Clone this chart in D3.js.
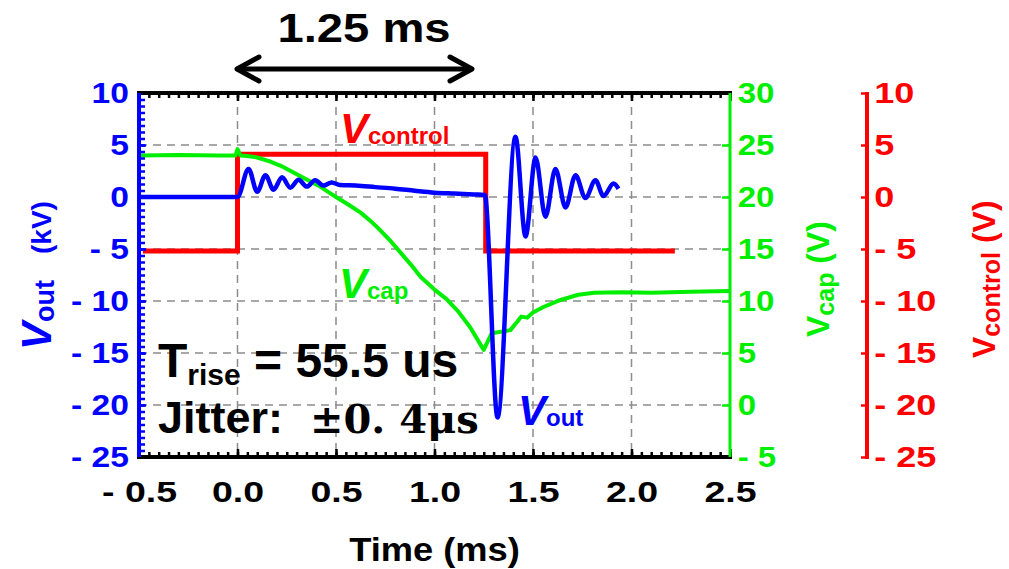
<!DOCTYPE html>
<html>
<head>
<meta charset="utf-8">
<script src="https://cdn.jsdelivr.net/npm/d3@7"></script>
<style>
  html, body { margin: 0; padding: 0; background: #fff; }
  svg { display: block; }
  text { font-family: "Liberation Sans", Arial, sans-serif; font-weight: bold; }
</style>
</head>
<body>
<div id="chart"></div>
<script>
// tick values
const timeTicks = [-0.5, 0, 0.5, 1, 1.5, 2, 2.5];
const voutTicks = [10, 5, 0, -5, -10, -15, -20, -25];
const vcapTicks = [30, 25, 20, 15, 10, 5, 0, -5];
const vctlTicks = [10, 5, 0, -5, -10, -15, -20, -25];

// V_control (V), step signal
const ctlTime  = [-0.48, 0.0, 0.0, 1.26, 1.26, 2.22];
const ctlValue = [-5.2, -5.2, 4.1, 4.1, -5.2, -5.2];

// V_cap (V)
const capTime  = [-0.5, -0.3, -0.1, -0.01, 0.0, 0.015, 0.05, 0.1, 0.16, 0.22, 0.27, 0.32, 0.37, 0.42, 0.46, 0.5, 0.56,
                  0.625, 0.675, 0.725, 0.78, 0.83, 0.88, 0.93, 1.0, 1.06, 1.12, 1.18, 1.25,
                  1.29, 1.385, 1.42, 1.44, 1.47, 1.5, 1.55, 1.64, 1.73, 1.81, 1.95, 2.1, 2.3, 2.5];
const capValue = [24.0, 24.05, 24.0, 24.0, 24.6, 24.0, 23.95, 23.8, 23.45, 23.0, 22.5, 22.0, 21.5, 21.0, 20.5, 20.0, 19.3,
                  18.5, 17.7, 16.8, 15.7, 14.6, 13.5, 12.3, 11.1, 10.2, 9.0, 7.5, 5.3,
                  6.9, 7.2, 8.0, 8.5, 8.4, 8.9, 9.4, 10.1, 10.6, 10.8, 10.85, 10.8, 10.9, 10.95];

// V_out (kV)
const outTime  = [-0.5, 0.0, 0.056, 0.1, 0.142, 0.183, 0.226, 0.268, 0.31, 0.352, 0.394, 0.436, 0.478, 0.52, 0.6, 0.7, 0.8, 0.9,
                  1.0, 1.1, 1.2, 1.255, 1.32, 1.411, 1.462, 1.513, 1.563, 1.614, 1.665, 1.716, 1.766, 1.817, 1.858, 1.909, 1.934];
const outValue = [0, 0, 2.7, 0.5, 2.1, 0.7, 1.9, 0.9, 1.65, 1.0, 1.6, 1.1, 1.4, 1.15, 1.1, 0.95, 0.8, 0.6,
                  0.42, 0.33, 0.25, 0.2, -21.2, 5.8, -3.8, 3.8, -1.9, 2.7, -1.0, 2.1, -0.1, 1.6, 0.1, 1.3, 0.8];

const W = 1009, H = 569;
const X0 = 139, X1 = 730, Y0 = 93, Y1 = 457;
const BLUE = '#0000ff', GREEN = '#00ee00', RED = '#ff0000';

const svg = d3.select('#chart').append('svg')
    .attr('width', W)
    .attr('height', H);

const x = d3.scaleLinear().domain([-0.5, 2.5]).range([X0, X1]);
const yOut = d3.scaleLinear().domain([-25, 10]).range([Y1, Y0]);
const yCap = d3.scaleLinear().domain([-5, 30]).range([Y1, Y0]);
const yCtl = d3.scaleLinear().domain([-25, 10]).range([Y1, Y0]);

const negFmt = v => v < 0 ? '- ' + Math.abs(v) : String(v);
const timeFmt = v => v < 0 ? '- ' + d3.format('.1f')(-v) : d3.format('.1f')(v);

// grid
const grid = svg.append('g')
    .attr('stroke', '#8c8c8c')
    .attr('stroke-width', 1.5)
    .attr('stroke-dasharray', '8,6');

grid.selectAll('.vg')
    .data(timeTicks.filter(t => t > -0.5 && t < 2.5))
    .join('line')
    .attr('x1', d => x(d)).attr('x2', d => x(d))
    .attr('y1', Y0).attr('y2', Y1);

grid.selectAll('.hg')
    .data(voutTicks.filter(v => v < 10 && v > -25))
    .join('line')
    .attr('x1', X0).attr('x2', X1)
    .attr('y1', d => yOut(d)).attr('y2', d => yOut(d));

// traces
const ctlData = ctlTime.map((t, i) => [t, ctlValue[i]]);
const capData = capTime.map((t, i) => [t, capValue[i]]);
const outData = outTime.map((t, i) => [t, outValue[i]]);

svg.append('path')
    .datum(ctlData)
    .attr('fill', 'none')
    .attr('stroke', RED)
    .attr('stroke-width', 5)
    .attr('d', d3.line().x(d => x(d[0])).y(d => yCtl(d[1])));

svg.append('path')
    .datum(capData)
    .attr('fill', 'none')
    .attr('stroke', GREEN)
    .attr('stroke-width', 4)
    .attr('stroke-linejoin', 'round')
    .attr('d', d3.line().x(d => x(d[0])).y(d => yCap(d[1])));

svg.append('path')
    .datum(outData)
    .attr('fill', 'none')
    .attr('stroke', BLUE)
    .attr('stroke-width', 4.5)
    .attr('stroke-linejoin', 'round')
    .attr('d', d3.line().curve(d3.curveMonotoneX).x(d => x(d[0])).y(d => yOut(d[1])));

// axes
function styleAxis(g, color, size, sx) {
    g.select('.domain').remove();
    g.selectAll('line').attr('stroke', color).attr('stroke-width', 2.5);
    g.selectAll('text')
        .attr('fill', color)
        .attr('transform', `scale(${sx || 1},1)`)
        .style('font-size', size + 'px')
        .style('font-family', '"Liberation Sans", Arial, sans-serif')
        .style('font-weight', 'bold');
}

const minorTime = d3.range(0, 61).map(i => -0.5 + i * 0.05);
const minorOut = d3.range(0, 57).map(i => -25 + i * 0.625);

svg.append('g')
    .attr('transform', `translate(0,${Y1})`)
    .call(d3.axisBottom(x).tickValues(minorTime).tickSize(-5).tickFormat(''))
    .call(g => styleAxis(g, '#000', 30));

svg.append('g')
    .attr('transform', `translate(0,${Y1})`)
    .call(d3.axisBottom(x).tickValues(timeTicks).tickSize(-8).tickPadding(24).tickFormat(timeFmt))
    .call(g => styleAxis(g, '#000', 30, 1.25));

svg.append('g')
    .attr('transform', `translate(0,${Y0})`)
    .call(d3.axisTop(x).tickValues(minorTime).tickSize(-5).tickFormat(''))
    .call(g => styleAxis(g, '#000', 30));

svg.append('g')
    .attr('transform', `translate(0,${Y0})`)
    .call(d3.axisTop(x).tickValues(timeTicks).tickSize(-8).tickFormat(''))
    .call(g => styleAxis(g, '#000', 30));

svg.append('g')
    .attr('transform', `translate(${X0},0)`)
    .call(d3.axisLeft(yOut).tickValues(minorOut).tickSize(-6).tickFormat(''))
    .call(g => styleAxis(g, BLUE, 30));

svg.append('g')
    .attr('transform', `translate(${X0},0)`)
    .call(d3.axisLeft(yOut).tickValues(voutTicks).tickSize(-7).tickPadding(9).tickFormat(negFmt))
    .call(g => styleAxis(g, BLUE, 30, 1.12));

svg.append('g')
    .attr('transform', `translate(${X1},0)`)
    .call(d3.axisRight(yCap).tickValues(vcapTicks).tickSize(-8).tickPadding(7).tickFormat(negFmt))
    .call(g => styleAxis(g, GREEN, 30, 1.1));

const ctlX = 867;
svg.append('g')
    .attr('transform', `translate(${ctlX},0)`)
    .call(d3.axisRight(yCtl).tickValues(vctlTicks).tickSize(-6).tickPadding(6).tickFormat(negFmt))
    .call(g => styleAxis(g, RED, 30, 1.2));

// frame lines
svg.append('line').attr('x1', X0 - 2).attr('x2', X1 + 2).attr('y1', Y0).attr('y2', Y0)
    .attr('stroke', '#000').attr('stroke-width', 4);
svg.append('line').attr('x1', X0 - 2).attr('x2', X1 + 2).attr('y1', Y1).attr('y2', Y1)
    .attr('stroke', '#000').attr('stroke-width', 4);
svg.append('line').attr('x1', X0).attr('x2', X0).attr('y1', Y0).attr('y2', Y1)
    .attr('stroke', BLUE).attr('stroke-width', 4);
svg.append('line').attr('x1', X1).attr('x2', X1).attr('y1', Y0).attr('y2', Y1)
    .attr('stroke', GREEN).attr('stroke-width', 3);
svg.append('line').attr('x1', ctlX).attr('x2', ctlX).attr('y1', Y0 - 1).attr('y2', Y1 + 2)
    .attr('stroke', RED).attr('stroke-width', 4);

// axis titles
svg.append('text')
    .attr('transform', `translate(${(X0 + X1) / 2},561) scale(1.1,1)`)
    .attr('text-anchor', 'middle')
    .style('font-size', '33px')
    .text('Time (ms)');

const tOut = svg.append('text')
    .attr('transform', 'translate(51,350) rotate(-90)')
    .attr('fill', BLUE);
tOut.append('tspan').style('font-size', '42px').style('font-style', 'italic').text('V');
tOut.append('tspan').style('font-size', '27px').attr('dy', 3).text('out');
tOut.append('tspan').style('font-size', '28px').attr('dy', -3).attr('x', 96).text('(kV)');

const tCap = svg.append('text')
    .attr('transform', 'translate(829,337) rotate(-90)')
    .attr('fill', GREEN);
tCap.append('tspan').style('font-size', '32px').text('V');
tCap.append('tspan').style('font-size', '25px').attr('dy', 5).text('cap');
tCap.append('tspan').style('font-size', '32px').attr('dy', -5).text(' (V)');

const tCtl = svg.append('text')
    .attr('transform', 'translate(995,358) rotate(-90)')
    .attr('fill', RED);
tCtl.append('tspan').style('font-size', '32px').text('V');
tCtl.append('tspan').style('font-size', '25px').attr('dy', 5).text('control');
tCtl.append('tspan').style('font-size', '32px').attr('dy', -5).text(' (V)');

// trace labels
function traceLabel(px, py, sub, color) {
    const t = svg.append('text').attr('x', px).attr('y', py).attr('fill', color);
    t.append('tspan').style('font-size', '42px').style('font-style', 'italic').text('V');
    t.append('tspan').style('font-size', '24px').attr('dy', 1).text(sub);
}
traceLabel(340, 143, 'control', RED);
traceLabel(339, 298, 'cap', GREEN);
traceLabel(518, 425, 'out', BLUE);

// annotations
const tr = svg.append('text').attr('x', 158).attr('y', 377).attr('fill', '#000');
tr.append('tspan').style('font-size', '48px').text('T');
tr.append('tspan').style('font-size', '30px').attr('dy', 8).text('rise');
tr.append('tspan').style('font-size', '48px').attr('dy', -8).text(' = 55.5 us');

svg.append('text').attr('x', 158).attr('y', 433)
    .style('font-size', '45px')
    .text('Jitter:');
svg.append('text').attr('x', 310).attr('y', 433)
    .style('font-family', '"DejaVu Serif", serif')
    .style('font-size', '40px')
    .text('±0. 4μs');

svg.append('text')
    .attr('transform', 'translate(364,42) scale(1.18,1)')
    .attr('text-anchor', 'middle')
    .style('font-size', '40px')
    .text('1.25 ms');

const arrow = svg.append('g')
    .attr('fill', 'none')
    .attr('stroke', '#000')
    .attr('stroke-width', 5)
    .attr('stroke-linecap', 'round')
    .attr('stroke-linejoin', 'round');
arrow.append('line').attr('x1', 238).attr('x2', 471).attr('y1', 69).attr('y2', 69);
arrow.append('polyline').attr('points', '259,57 237,69 259,81');
arrow.append('polyline').attr('points', '450,57 472,69 450,81');
</script>
</body>
</html>
